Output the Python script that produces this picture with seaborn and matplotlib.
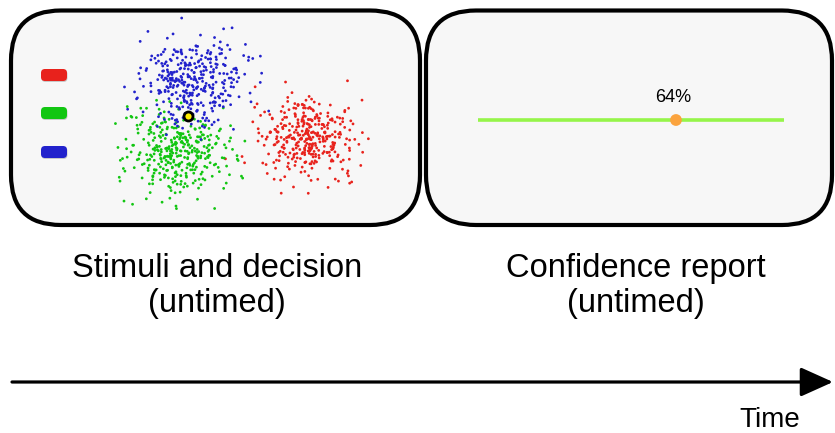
import numpy as np
import pandas as pd
import seaborn as sns
import matplotlib.pyplot as plt
from matplotlib.patches import FancyBboxPatch

# stimulus clouds: centre and spread (pixel units)
cloud_names = ["red", "green", "blue"]
cloud_colors = ["#e8221c", "#12c612", "#2222cc"]
cloud_cx = [310, 178, 194]
cloud_cy = [140, 152, 80]
cloud_sx = [26, 26, 25]
cloud_sy = [21, 20, 22]
cloud_n = [360, 360, 360]
key_y = [75, 113, 152]

choice_xy = (188, 116)
confidence = 64
slider_left, slider_right = 478, 784

# dot texture for each cloud (fixed seed so the file always draws the same)
rng = np.random.default_rng(7)
rows = []
for name, cx, cy, sx, sy, n in zip(cloud_names, cloud_cx, cloud_cy, cloud_sx, cloud_sy, cloud_n):
    xs = rng.normal(cx, sx, n)
    ys = rng.normal(cy, sy, n)
    rows.append(pd.DataFrame({"x": xs, "y": ys, "cloud": name}))
dots = pd.concat(rows, ignore_index=True)

sns.set_style("white")
plt.rcParams["font.family"] = ["Liberation Sans", "DejaVu Sans"]
plt.rcParams["text.color"] = "black"

fig = plt.figure(figsize=(8.35, 4.33), dpi=100)
ax = fig.add_axes([0, 0, 1, 1])

# the two screens
for x0, x1 in [(11, 420), (426, 832)]:
    box = FancyBboxPatch((x0, 10.5), x1 - x0, 214.5,
                         boxstyle="round,pad=0,rounding_size=50",
                         fc="#f7f7f7", ec="black", lw=3, zorder=1)
    ax.add_patch(box)

# response keys
for color, y in zip(cloud_colors, key_y):
    shadow = FancyBboxPatch((41.5, y - 5), 26, 12, boxstyle="round,pad=0,rounding_size=4",
                            fc="#c8c8c8", ec="none", zorder=2)
    key = FancyBboxPatch((41, y - 6), 26, 12, boxstyle="round,pad=0,rounding_size=4",
                         fc=color, ec="none", zorder=2)
    ax.add_patch(shadow)
    ax.add_patch(key)

sns.scatterplot(data=dots, x="x", y="y", hue="cloud",
                palette=dict(zip(cloud_names, cloud_colors)),
                s=4, marker="o", linewidth=0, legend=False, ax=ax, zorder=3)

ax.scatter([choice_xy[0]], [choice_xy[1]], s=42, c="#ffee00",
           edgecolors="black", linewidths=2, zorder=5)

# confidence slider
dot_x = slider_left + (slider_right - slider_left) * 0.647
ax.plot([slider_left, slider_right], [120, 120], color="#96f54a", lw=2.6, zorder=3,
        solid_capstyle="butt")
ax.scatter([dot_x], [120], s=72, c="#fba33e", edgecolors="none", zorder=4)
ax.text(dot_x - 3, 98, f"{confidence}%", ha="center", va="center", fontsize=13)

# labels
for cx, lines in [(217, ["Stimuli and decision", "(untimed)"]),
                  (636, ["Confidence report", "(untimed)"])]:
    ax.text(cx, 277, lines[0], ha="center", va="baseline", fontsize=23.5)
    ax.text(cx, 312, lines[1], ha="center", va="baseline", fontsize=23.5)

# time arrow
ax.annotate("", xy=(833, 382), xytext=(12, 382),
            arrowprops=dict(arrowstyle="-|>,head_length=1.0,head_width=0.45",
                            mutation_scale=20, color="black", lw=2.3,
                            shrinkA=0, shrinkB=0))
ax.text(770, 427, "Time", ha="center", va="baseline", fontsize=20)

ax.set_xlim(0, 835)
ax.set_ylim(433, 0)
ax.axis("off")

fig.savefig("out.png", dpi=100)
